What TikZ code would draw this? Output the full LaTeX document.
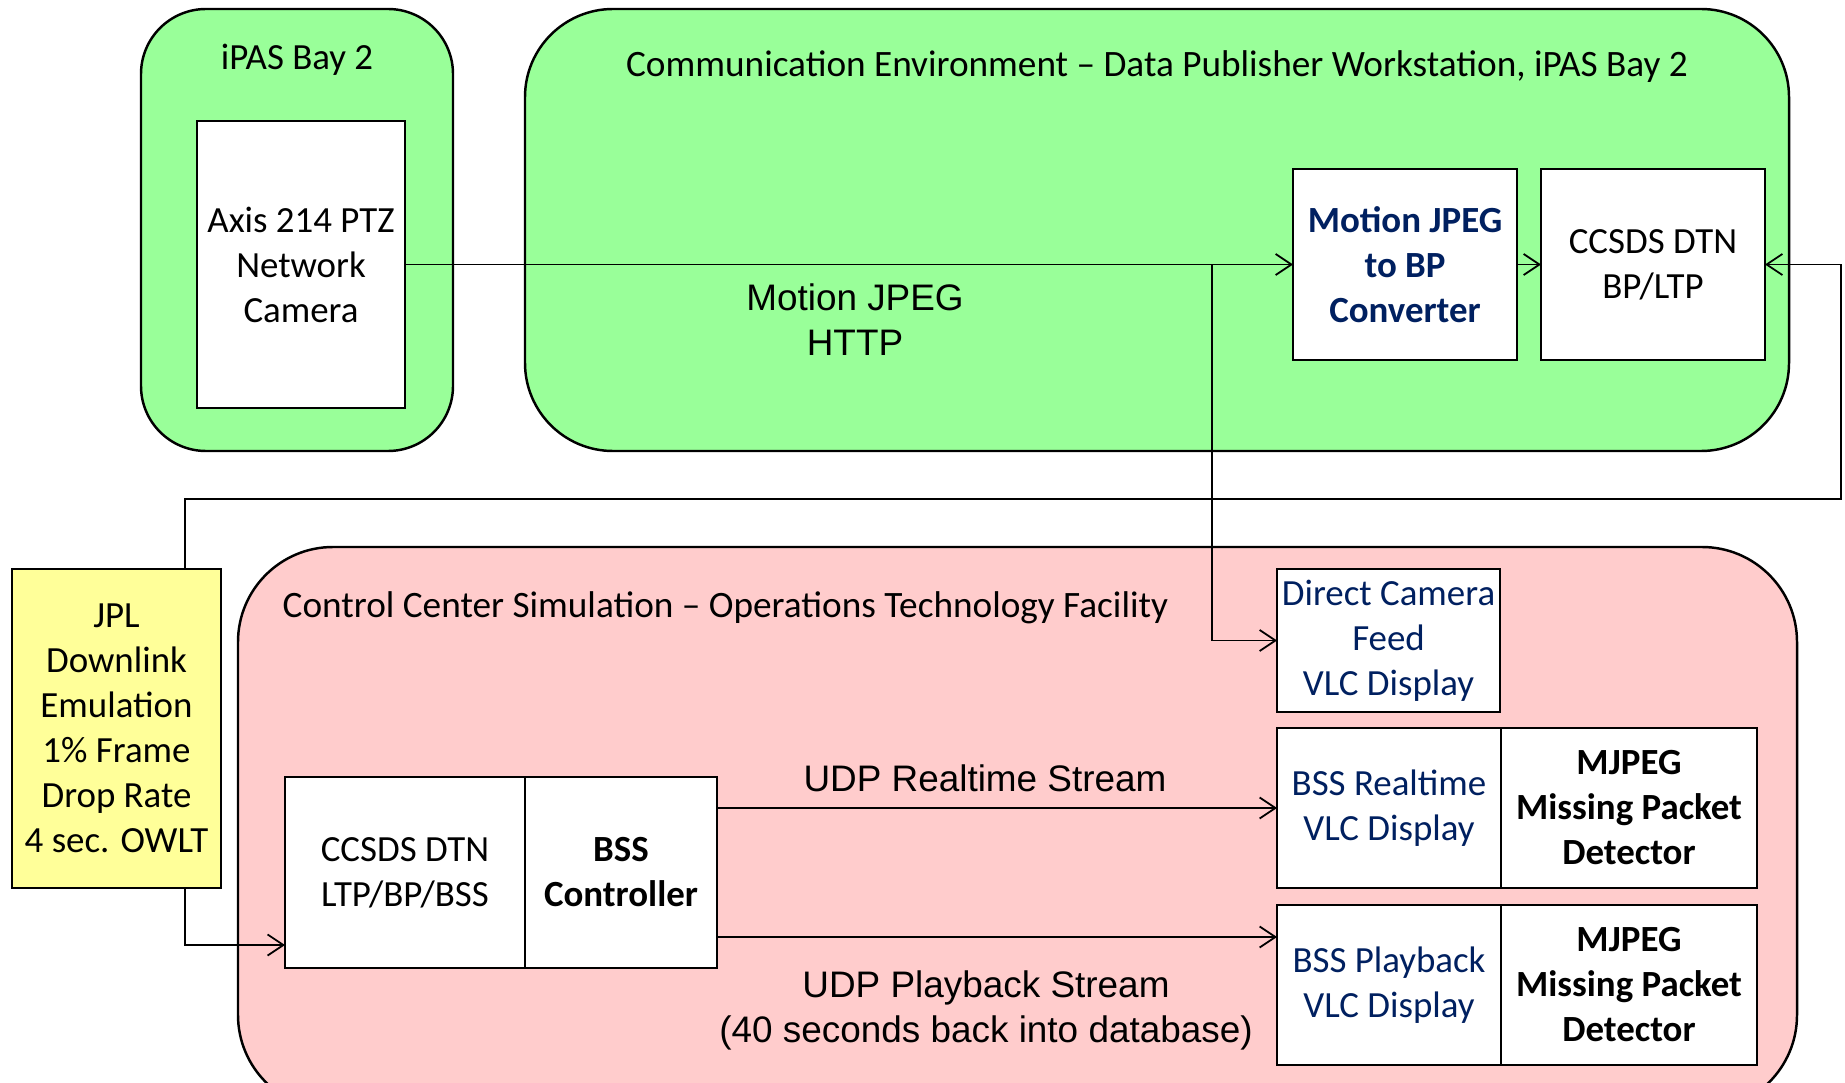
\documentclass[tikz,border=0pt]{standalone}
\usepackage{fontspec}
\setmainfont{Carlito}
\newfontfamily\arialfont{Liberation Sans}
\usetikzlibrary{arrows.meta}
\definecolor{envgreen}{HTML}{99FF99}
\definecolor{ccpink}{HTML}{FFCCCC}
\definecolor{jplyellow}{HTML}{FFFF99}
\definecolor{navytext}{HTML}{002060}
\newcommand{\boxfont}{\fontsize{10.5}{12.8}\selectfont}

\begin{document}
\begin{tikzpicture}[
        every node/.style={font=\boxfont, align=center},
        box/.style={draw, line width=0.7pt, fill=white, inner sep=0pt, outer sep=0pt},
        env/.style={draw, line width=0.7pt, rounded corners=#1},
        flow/.style={line width=0.5pt, -{Straight Barb[length=4.5pt,width=6pt]}}
    ]
        \useasboundingbox (0,0) rectangle (18.45,-10.83);
        \clip (0,0) rectangle (18.45,-10.83);
        \draw[env=0.65cm, fill=envgreen] (1.41,-0.09) rectangle (4.53,-4.51);
        \draw[env=0.88cm, fill=envgreen] (5.25,-0.09) rectangle (17.89,-4.51);
        \draw[env=0.95cm, fill=ccpink] (2.38,-5.47) rectangle (17.97,-11.10);
        \node (bay) at (2.97,-0.6) {iPAS Bay 2};
        \node[font=\fontsize{10.6}{12.8}\selectfont] (commenv) at (11.57,-0.665) {Communication Environment – Data Publisher Workstation, iPAS Bay 2};
        \node[box, minimum width=2.085cm, minimum height=2.87cm] (cam) at (3.01,-2.645) {Axis 214 PTZ\\Network\\Camera};
        \node[box, text=navytext, font=\boxfont\bfseries, minimum width=2.24cm, minimum height=1.91cm] (conv) at (14.05,-2.645) {Motion JPEG\\to BP\\Converter};
        \node[box, minimum width=2.24cm, minimum height=1.91cm] (bplt) at (16.53,-2.645) {CCSDS DTN\\BP/LTP};
        \node[font=\boxfont\arialfont] (mjpg) at (8.55,-3.2) {Motion JPEG\\HTTP};
        \node[box, fill=jplyellow, minimum width=2.09cm, minimum height=3.19cm] (jpl) at (1.165,-7.285) {JPL\\Downlink\\Emulation\\1\% Frame\\Drop Rate\\4 sec. OWLT};
        \node[anchor=west, inner sep=0pt, font=\fontsize{10.6}{12.8}\selectfont] (cctitle) at (2.82,-6.08) {Control Center Simulation – Operations Technology Facility};
        \node[box, text=navytext, minimum width=2.23cm, minimum height=1.43cm] (direct) at (13.885,-6.405) {Direct Camera\\Feed\\VLC Display};
        \node[box, text=navytext, minimum width=2.24cm, minimum height=1.6cm] (rtvlc) at (13.89,-8.08) {BSS Realtime\\VLC Display};
        \node[box, font=\boxfont\bfseries, minimum width=2.56cm, minimum height=1.6cm, anchor=west] (rtdet) at (rtvlc.east) {MJPEG\\Missing Packet\\Detector};
        \node[box, text=navytext, minimum width=2.24cm, minimum height=1.6cm] (pbvlc) at (13.89,-9.85) {BSS Playback\\VLC Display};
        \node[box, font=\boxfont\bfseries, minimum width=2.56cm, minimum height=1.6cm, anchor=west] (pbdet) at (pbvlc.east) {MJPEG\\Missing Packet\\Detector};
        \node[box, minimum width=2.40cm, minimum height=1.91cm] (ltp) at (4.05,-8.725) {CCSDS DTN\\LTP/BP/BSS};
        \node[box, font=\boxfont\bfseries, minimum width=1.92cm, minimum height=1.91cm, anchor=west] (bssc) at (ltp.east) {BSS\\Controller};
        \node[font=\boxfont\arialfont] (udprt) at (9.85,-7.78) {UDP Realtime Stream};
        \node[font=\boxfont\arialfont] (udppb) at (9.86,-10.1) {UDP Playback Stream\\(40 seconds back into database)};
        \coordinate (tee)   at (12.12,-2.645);
        \coordinate (loopl) at (1.85,-4.99);
        \coordinate (loopr) at (18.41,-4.99);
        \coordinate (ltpin) at (2.85,-9.45);
        \coordinate (pbin)  at (12.77,-9.37);
        \draw[flow] (cam.east) -- (conv.west);
        \draw[flow] (conv.east) -- (bplt.west);
        \draw[flow] (tee) |- (direct.west);
        \draw[flow] (loopl |- jpl.north) -- (loopl) -- (loopr) |- (bplt.east);
        \draw[flow] (loopl |- jpl.south) |- (ltpin);
        \draw[flow] (bssc.east |- rtvlc.west) -- (rtvlc.west);
        \draw[flow] (bssc.east |- pbin) -- (pbin);
        %\draw[red] (0,0) grid (18,-10);
    \end{tikzpicture}
\end{document}
